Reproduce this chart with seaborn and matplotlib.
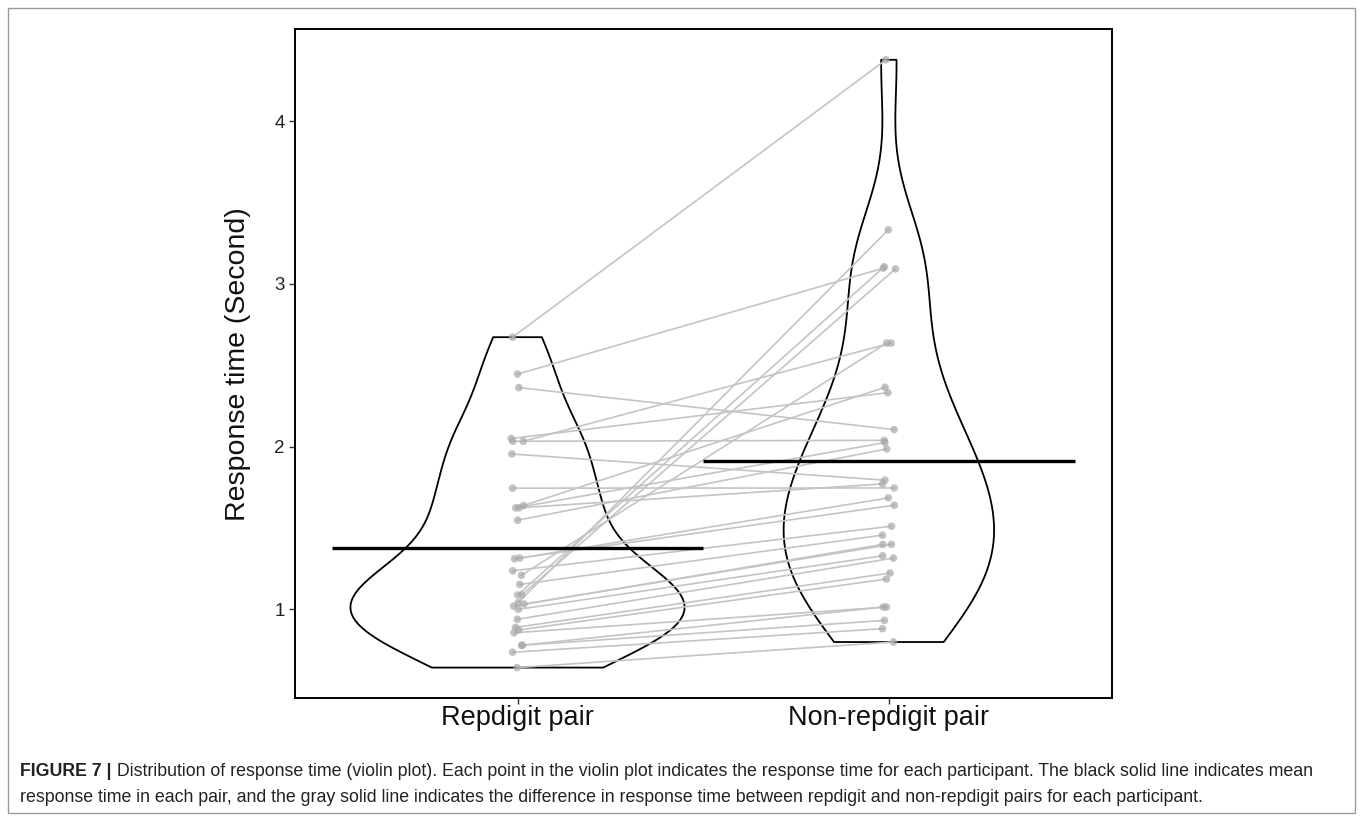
import numpy as np
import pandas as pd
import matplotlib
matplotlib.use("Agg")
import matplotlib.pyplot as plt
import seaborn as sns
from matplotlib.patches import Rectangle

# Response time (s) per participant; index i is the same participant in both lists
conditions = ["Repdigit pair", "Non-repdigit pair"]
repdigit_rt = [2.673, 2.446, 2.363, 2.050, 2.033, 2.033, 1.955, 1.745, 1.638, 1.624,
               1.624, 1.548, 1.315, 1.311, 1.237, 1.209, 1.153, 1.088, 1.088, 1.041,
               1.033, 1.020, 1.000, 0.939, 0.889, 0.873, 0.856, 0.779, 0.779, 0.736,
               0.642]
nonrepdigit_rt = [4.378, 3.097, 2.105, 2.332, 2.039, 2.637, 1.794, 1.746, 2.365, 1.771,
                  2.025, 1.986, 1.685, 1.640, 1.511, 2.637, 1.456, 3.106, 3.093, 3.333,
                  1.399, 1.399, 1.329, 1.315, 1.223, 1.186, 1.014, 1.014, 0.932, 0.881,
                  0.799]
y_ticks = [1, 2, 3, 4]
y_label = "Response time (Second)"
caption_head = "FIGURE 7 |"
caption_line1 = (" Distribution of response time (violin plot). Each point in the violin plot "
                 "indicates the response time for each participant. The black solid line indicates mean")
caption_line2 = ("response time in each pair, and the gray solid line indicates the difference in "
                 "response time between repdigit and non-repdigit pairs for each participant.")

sns.set_theme(style="white")
plt.rcParams["font.family"] = ["Liberation Sans", "DejaVu Sans"]

n = len(repdigit_rt)
df = pd.DataFrame({
    "participant": np.tile(np.arange(n), 2),
    "condition": np.repeat(conditions, n),
    "rt": np.concatenate([repdigit_rt, nonrepdigit_rt]),
})
# small horizontal jitter so overlapping points stay visible
rng = np.random.default_rng(11)
df["xpos"] = df["condition"].map({c: i for i, c in enumerate(conditions)}) + \
    rng.uniform(-0.018, 0.018, len(df))

fig = plt.figure(figsize=(13.6, 8.22), dpi=100)
ax = fig.add_axes([0.2167, 0.1509, 0.6007, 0.8133])

sns.violinplot(data=df, x="condition", y="rt", order=conditions, cut=0,
               bw_method=0.42, density_norm="area", width=0.9, inner=None,
               fill=False, color="black", linewidth=1.3, ax=ax)

# paired lines per participant
for _, g in df.groupby("participant"):
    sns.lineplot(x=g["xpos"].values, y=g["rt"].values, sort=False, color="#c4c4c4",
                 linewidth=1.2, ax=ax, legend=False, estimator=None)

sns.scatterplot(data=df, x="xpos", y="rt", color="#a8a8a8", alpha=0.7, s=30,
                edgecolor="none", ax=ax, legend=False, zorder=3)

# condition means
means = df.groupby("condition", sort=False)["rt"].mean().reindex(conditions)
for i, m in enumerate(means):
    ax.hlines(m, i - 0.5, i + 0.5, color="black", linewidth=2.4, zorder=4)

lo, hi = df["rt"].min(), df["rt"].max()
pad = 0.05 * (hi - lo)
ax.set_ylim(lo - pad, hi + pad)
ax.set_xlim(-0.6, 1.6)
ax.set_yticks(y_ticks)
ax.set_yticklabels([str(t) for t in y_ticks])
ax.set_xticks(range(len(conditions)))
ax.set_xticklabels(conditions)
ax.set_xlabel("")
ax.set_ylabel(y_label, fontsize=20.5, labelpad=17, color="#111111")
ax.tick_params(axis="y", length=4, width=1, color="#333333", labelsize=13.5,
               labelcolor="#222222", left=True, pad=3)
ax.tick_params(axis="x", length=4, width=1, color="#333333", labelsize=19.5,
               labelcolor="#111111", bottom=True, pad=1)
for s in ax.spines.values():
    s.set_visible(True)
    s.set_color("black")
    s.set_linewidth(1.4)

# outer frame around figure and caption
fig.patches.append(Rectangle((8 / 1360, 1 - 813 / 822), 1347 / 1360, 805 / 822,
                             transform=fig.transFigure, fill=False,
                             edgecolor="#9a9a9a", linewidth=1.0))

cap_font = ["Liberation Sans Narrow", "Liberation Sans", "DejaVu Sans"]
cap_size = 12.8
head = fig.text(20 / 1360, 1 - 771 / 822, caption_head, family=cap_font, fontsize=cap_size,
                fontweight="bold", va="center", ha="left", color="#222222")
fig.canvas.draw()
bb = head.get_window_extent(renderer=fig.canvas.get_renderer())
fig.text(bb.x1 / 1360, 1 - 771 / 822, caption_line1, family=cap_font, fontsize=cap_size,
         va="center", ha="left", color="#222222")
fig.text(20 / 1360, 1 - 797 / 822, caption_line2, family=cap_font, fontsize=cap_size,
         va="center", ha="left", color="#222222")

fig.savefig("out.png", dpi=100)
